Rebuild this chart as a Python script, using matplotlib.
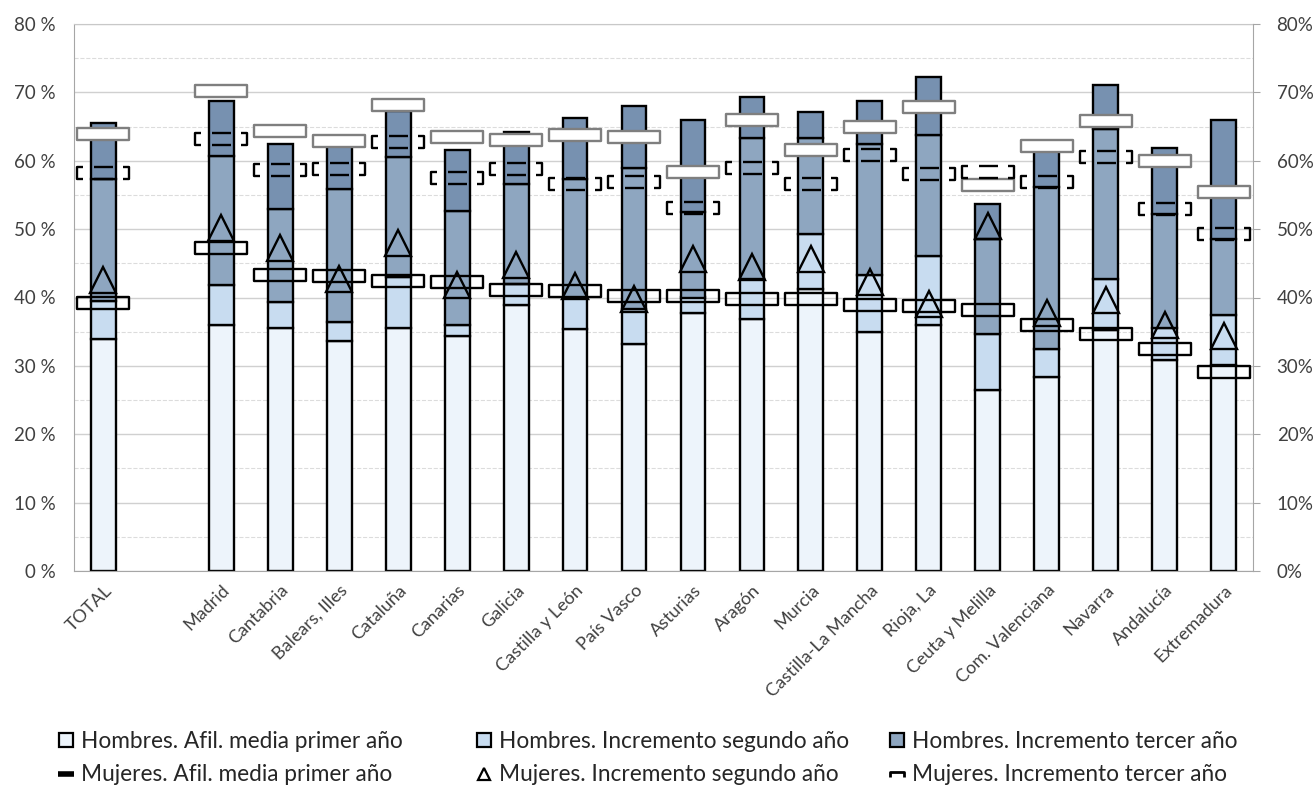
import numpy as np
import matplotlib
matplotlib.use("Agg")
import matplotlib.pyplot as plt
from matplotlib.path import Path
from matplotlib.lines import Line2D

plt.rcParams['font.family'] = ['Lato', 'DejaVu Sans']

regions = ["TOTAL", "Madrid", "Cantabria", "Balears, Illes", "Cataluña", "Canarias",
           "Galicia", "Castilla y León", "País Vasco", "Asturias", "Aragón", "Murcia",
           "Castilla-La Mancha", "Rioja, La", "Ceuta y Melilla", "Com. Valenciana",
           "Navarra", "Andalucía", "Extremadura"]

# Hombres, cumulative levels (%)
h_primer = [33.9, 36.0, 35.6, 33.7, 35.5, 34.3, 38.9, 35.4, 33.2, 37.7, 36.8, 41.2, 34.9, 36.0, 26.5, 28.3, 35.3, 30.9, 30.2]
h_segundo = [39.5, 41.8, 39.4, 36.4, 43.0, 36.0, 42.0, 39.9, 38.3, 40.0, 42.7, 49.3, 43.3, 46.0, 34.7, 32.4, 42.7, 35.5, 37.4]
h_tercer = [57.4, 60.7, 52.9, 55.8, 60.5, 52.7, 56.6, 57.4, 58.9, 52.5, 63.4, 63.3, 62.4, 63.8, 48.5, 56.1, 64.7, 52.2, 48.5]
h_top = [65.5, 68.8, 62.4, 62.1, 67.3, 61.5, 64.2, 66.2, 68.0, 66.0, 69.3, 67.1, 68.8, 72.3, 53.7, 61.4, 71.1, 61.8, 66.0]

# Mujeres, cumulative levels (%)
m_primer = [39.2, 47.2, 43.3, 43.1, 42.4, 42.3, 41.1, 41.0, 40.2, 40.2, 39.8, 39.8, 38.9, 38.8, 38.1, 36.0, 34.7, 32.5, 29.1]
m_segundo = [42.5, 50.1, 47.3, 42.7, 47.9, 41.9, 44.8, 41.7, 39.8, 45.7, 44.4, 45.7, 42.3, 39.0, 50.4, 37.7, 39.7, 36.0, 34.3]
m_tercer = [58.2, 63.2, 58.6, 58.8, 62.8, 57.5, 58.8, 56.6, 56.9, 53.1, 59.0, 56.6, 60.9, 58.1, 58.4, 56.9, 60.5, 52.9, 49.3]
# gray outlined markers
m_total = [63.9, 70.2, 64.3, 62.9, 68.1, 63.5, 63.0, 63.7, 63.5, 58.3, 65.9, 61.6, 65.0, 67.9, 56.5, 62.2, 65.8, 59.9, 55.5]

c1, c2, c3, c4 = '#edf4fb', '#c8dcf0', '#8ea6c0', '#7791b0'

x = np.array([0] + list(range(2, 20)))
h_primer = np.array(h_primer)
h_segundo = np.array(h_segundo)
h_tercer = np.array(h_tercer)
h_top = np.array(h_top)

fig = plt.figure(figsize=(13.14, 7.90), dpi=100)
ax = fig.add_axes([74/1314, 1-571/790, (1253-74)/1314, (571-24)/790])

w = 0.42
lw = 1.7
ax.bar(x, h_primer, w, color=c1, edgecolor='black', linewidth=lw, zorder=2)
ax.bar(x, h_segundo-h_primer, w, bottom=h_primer, color=c2, edgecolor='black', linewidth=lw, zorder=2)
ax.bar(x, h_tercer-h_segundo, w, bottom=h_segundo, color=c3, edgecolor='black', linewidth=lw, zorder=2)
ax.bar(x, h_top-h_tercer, w, bottom=h_tercer, color=c4, edgecolor='black', linewidth=lw, zorder=2)

# marker shapes
rh = 0.21
rect = Path([(-1, -rh), (1, -rh), (1, rh), (-1, rh), (-1, -rh)],
            [Path.MOVETO, Path.LINETO, Path.LINETO, Path.LINETO, Path.CLOSEPOLY])
c = 0.26
d = 0.36
dverts = [(-1+c, rh), (-1, rh), (-1, -rh), (-1+c, -rh),
          (1-c, rh), (1, rh), (1, -rh), (1-c, -rh),
          (-d, rh), (d, rh), (-d, -rh), (d, -rh)]
dcodes = [Path.MOVETO, Path.LINETO, Path.LINETO, Path.LINETO] * 2 + [Path.MOVETO, Path.LINETO] * 2
drect = Path(dverts, dcodes)

ms_r = 38
ax.plot(x, m_total, ls='none', marker=rect, ms=ms_r, mfc='white', mec='#7f7f7f', mew=1.7, zorder=4)
ax.plot(x, m_primer, ls='none', marker=rect, ms=ms_r, mfc='none', mec='black', mew=1.7, zorder=5)
ax.plot(x, m_segundo, ls='none', marker='^', ms=18.5, mfc='none', mec='black', mew=1.7, zorder=5)
ax.plot(x, m_tercer, ls='none', marker=drect, ms=ms_r, mfc='none', mec='black', mew=1.7, zorder=5)

ax.set_xlim(-0.5, 19.5)
ax.set_ylim(0, 80)
ax.set_yticks(range(0, 81, 10))
ax.set_yticklabels([f"{v} %" for v in range(0, 81, 10)], fontsize=13.5, color='#404040')
ax.set_yticks(range(5, 80, 10), minor=True)
ax.grid(axis='y', which='major', color='#d0d0d0', lw=1.0, zorder=0)
ax.grid(axis='y', which='minor', color='#dcdcdc', lw=0.8, ls='--', zorder=0)
ax.set_axisbelow(True)
ax.tick_params(axis='y', which='both', length=0, pad=13)
ax.set_xticks(x)
ax.set_xticklabels(regions, rotation=45, ha='right', va='top', rotation_mode='anchor',
                   fontsize=13, color='#404040')
ax.tick_params(axis='x', length=0, pad=8)
for s in ['left', 'bottom']:
    ax.spines[s].set_color('#a6a6a6')
ax.spines['top'].set_color('#c8c8c8')
ax.spines['right'].set_visible(False)

ax2 = ax.twinx()
ax2.set_ylim(0, 80)
ax2.set_yticks(range(0, 81, 10))
ax2.set_yticklabels([f"{v}%" for v in range(0, 81, 10)], fontsize=13.5, color='#404040')
ax2.tick_params(axis='y', length=5, color='#a6a6a6', pad=12)
for s in ['left', 'bottom', 'top']:
    ax2.spines[s].set_visible(False)
ax2.spines['right'].set_color('#a6a6a6')

tercer_marker = Path([(-1, -0.5), (-1, 0.3), (1, 0.3), (1, -0.5)])
cols = [
    [Line2D([], [], ls='none', marker='s', ms=10, mfc=c1, mec='black', mew=1.6),
     Line2D([], [], ls='none', marker='_', ms=11, mec='black', mew=4)],
    [Line2D([], [], ls='none', marker='s', ms=10, mfc=c2, mec='black', mew=1.6),
     Line2D([], [], ls='none', marker='^', ms=9, mfc='none', mec='black', mew=1.6)],
    [Line2D([], [], ls='none', marker='s', ms=10, mfc=c3, mec='black', mew=1.6),
     Line2D([], [], ls='none', marker=tercer_marker, ms=10, mfc='none', mec='black', mew=2)],
]
labels = [
    ["Hombres. Afil. media primer año", "Mujeres. Afil. media primer año"],
    ["Hombres. Incremento segundo año", "Mujeres. Incremento segundo año"],
    ["Hombres. Incremento tercer año", "Mujeres. Incremento tercer año"],
]
xs = [58, 476, 889]
for xp, hs, ls in zip(xs, cols, labels):
    fig.legend(hs, ls, loc='upper left', bbox_to_anchor=(xp/1314, 1-731/790),
               frameon=False, fontsize=16.3, handlelength=0.7, handletextpad=0.3,
               borderpad=0, borderaxespad=0, labelspacing=0.55, labelcolor='#262626')

fig.savefig('out.png', dpi=100)
